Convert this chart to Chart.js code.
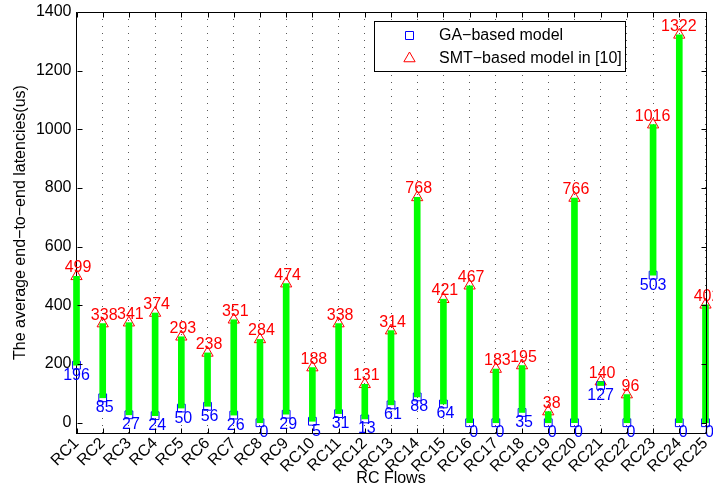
<!DOCTYPE html>
<html>
<head>
<meta charset="utf-8">
<script src="https://cdn.jsdelivr.net/npm/chart.js@4.4.0/dist/chart.umd.min.js"></script>
<style>
  html, body { margin: 0; padding: 0; background: #fff; overflow: hidden; }
  canvas { display: block; }
</style>
</head>
<body>
<canvas id="latencyChart" width="713" height="489"></canvas>
<script>
// Dữ liệu của biểu đồ
const categories = ['RC1', 'RC2', 'RC3', 'RC4', 'RC5', 'RC6', 'RC7', 'RC8', 'RC9', 'RC10',
    'RC11', 'RC12', 'RC13', 'RC14', 'RC15', 'RC16', 'RC17', 'RC18', 'RC19', 'RC20',
    'RC21', 'RC22', 'RC23', 'RC24', 'RC25'];
const gaValues = [196, 85, 27, 24, 50, 56, 26, 0, 29, 5, 31, 13, 61, 88, 64, 0, 0, 35, 0, 0, 127, 0, 503, 0, 0];
const smtValues = [499, 338, 341, 374, 293, 238, 351, 284, 474, 188, 338, 131, 314, 768, 421, 467, 183, 195, 38, 766, 140, 96, 1016, 1322, 402];
const yTicks = [0, 200, 400, 600, 800, 1000, 1200, 1400];
const seriesNames = ['GA−based model', 'SMT−based model in [10]'];

const FONT = '"Liberation Sans", Arial, Helvetica, sans-serif';
const BLUE = '#0000ff';
const RED = '#ff0000';

// Khung trục, vạch chia hướng vào trong
const framePlugin = {
    id: 'frame',
    afterDraw(chart) {
        const { ctx, chartArea: a, scales: { x, y } } = chart;
        const line = (x1, y1, x2, y2) => { ctx.moveTo(x1, y1); ctx.lineTo(x2, y2); };
        const top = Math.round(a.top) + 0.5;
        const right = Math.round(a.right) + 0.5;
        const bottom = Math.round(a.bottom) + 0.5;
        const left = Math.round(a.left) + 0.5;
        ctx.save();
        ctx.strokeStyle = '#000';
        ctx.lineWidth = 1;
        ctx.beginPath();
        line(left, top, right, top);
        line(right, top, right, bottom);
        yTicks.forEach(v => {
            const py = Math.round(y.getPixelForValue(v)) + 0.5;
            line(left, py, left + 5, py);
            line(right - 5, py, right, py);
        });
        categories.forEach((c, i) => {
            const px = Math.round(x.getPixelForValue(i + 1)) + 0.5;
            line(px, bottom, px, bottom - 5);
            line(px, top, px, top + 5);
        });
        ctx.stroke();
        ctx.restore();
    }
};

// Nhãn giá trị cạnh từng điểm
const valueLabelPlugin = {
    id: 'valueLabels',
    afterDatasetsDraw(chart) {
        const ctx = chart.ctx;
        const gaMeta = chart.getDatasetMeta(1);
        const smtMeta = chart.getDatasetMeta(2);
        ctx.save();
        ctx.font = '16px ' + FONT;
        ctx.textAlign = 'center';
        ctx.textBaseline = 'alphabetic';
        ctx.fillStyle = BLUE;
        gaMeta.data.forEach((pt, i) => {
            const s = String(gaValues[i]);
            ctx.fillText(s, pt.x + 2 * (3 - s.length), pt.y + 14.5);
        });
        ctx.fillStyle = RED;
        smtMeta.data.forEach((pt, i) => {
            const s = String(smtValues[i]);
            ctx.fillText(s, pt.x + 2 * (3 - s.length) + 1.5, pt.y - 4);
        });
        ctx.restore();
    }
};

// Chú thích có khung, nằm trong vùng vẽ
const legendBoxPlugin = {
    id: 'legendBox',
    afterDraw(chart) {
        const ctx = chart.ctx;
        const bx = 374.5, by = 21.5, bw = 251, bh = 50;
        ctx.save();
        ctx.fillStyle = '#fff';
        ctx.fillRect(bx, by, bw, bh);
        ctx.strokeStyle = '#000';
        ctx.lineWidth = 1;
        ctx.strokeRect(bx, by, bw, bh);

        // ô vuông xanh
        ctx.strokeStyle = BLUE;
        ctx.beginPath();
        ctx.rect(405.5, 31.5, 8, 8);
        ctx.stroke();
        // tam giác đỏ
        ctx.strokeStyle = RED;
        const r = 6.5, cx = 409.5, cy = 58.5;
        ctx.beginPath();
        ctx.moveTo(cx, cy - r);
        ctx.lineTo(cx + r * 0.866, cy + r / 2);
        ctx.lineTo(cx - r * 0.866, cy + r / 2);
        ctx.closePath();
        ctx.stroke();

        ctx.fillStyle = '#000';
        ctx.font = '16px ' + FONT;
        ctx.textAlign = 'left';
        ctx.textBaseline = 'middle';
        ctx.fillText(seriesNames[0], 439, 36);
        ctx.fillText(seriesNames[1], 439, 59);
        ctx.restore();
    }
};

const ctx = document.getElementById('latencyChart').getContext('2d');
const latencyChart = new Chart(ctx, {
    type: 'bar',
    data: {
        datasets: [
            {
                type: 'bar',
                label: 'range',
                data: categories.map((c, i) => ({ x: i + 1, y: [gaValues[i], smtValues[i]] })),
                backgroundColor: '#00ff00',
                borderWidth: 0,
                barThickness: 6,
                grouped: false,
                clip: false,
                order: 0
            },
            {
                type: 'line',
                label: seriesNames[0],
                data: gaValues.map((v, i) => ({ x: i + 1, y: v })),
                showLine: false,
                pointStyle: 'rect',
                pointRadius: 5.5,
                pointBorderWidth: 1,
                pointBorderColor: BLUE,
                pointBackgroundColor: 'rgba(0,0,0,0)',
                clip: false,
                order: 1
            },
            {
                type: 'line',
                label: seriesNames[1],
                data: smtValues.map((v, i) => ({ x: i + 1, y: v })),
                showLine: false,
                pointStyle: 'triangle',
                pointRadius: 6.5,
                pointBorderWidth: 1,
                pointBorderColor: RED,
                pointBackgroundColor: 'rgba(0,0,0,0)',
                clip: false,
                order: 2
            }
        ]
    },
    options: {
        responsive: false,
        animation: false,
        devicePixelRatio: 1,
        events: [],
        layout: { padding: { top: 12, right: 6.5, bottom: 0, left: 0 } },
        plugins: {
            legend: { display: false },
            tooltip: { enabled: false }
        },
        scales: {
            x: {
                type: 'linear',
                offset: false,
                min: 1,
                max: 25,
                afterBuildTicks: scale => {
                    scale.ticks = categories.map((c, i) => ({ value: i + 1 }));
                },
                afterFit: scale => {
                    scale.height = 56;
                    scale.paddingLeft = 0;
                    scale.paddingRight = 0;
                },
                ticks: {
                    autoSkip: false,
                    minRotation: 45,
                    maxRotation: 45,
                    padding: 1,
                    color: '#000',
                    font: { family: FONT, size: 16 },
                    callback: value => categories[value - 1]
                },
                grid: {
                    display: true,
                    offset: false,
                    drawTicks: false,
                    color: 'rgba(0,0,0,0.65)',
                    lineWidth: 1
                },
                border: { display: true, color: '#000', width: 1, dash: [1, 6] },
                title: {
                    display: true,
                    text: 'RC Flows',
                    color: '#000',
                    font: { family: FONT, size: 16 },
                    padding: { top: 0, bottom: 1 }
                }
            },
            y: {
                min: -35,
                max: 1400,
                afterBuildTicks: scale => {
                    scale.ticks = yTicks.map(v => ({ value: v }));
                },
                afterFit: scale => {
                    scale.width = 76.5;
                    scale.paddingTop = 0;
                    scale.paddingBottom = 0;
                },
                ticks: {
                    padding: 5,
                    color: '#000',
                    font: { family: FONT, size: 16 },
                    callback: value => String(value)
                },
                grid: { display: false, drawTicks: false },
                border: { display: true, color: '#000', width: 1 },
                title: {
                    display: true,
                    text: 'The average end−to−end latencies(us)',
                    color: '#000',
                    font: { family: FONT, size: 16 },
                    padding: { top: 11, bottom: 0 }
                }
            }
        }
    },
    plugins: [framePlugin, valueLabelPlugin, legendBoxPlugin]
});
</script>
</body>
</html>
